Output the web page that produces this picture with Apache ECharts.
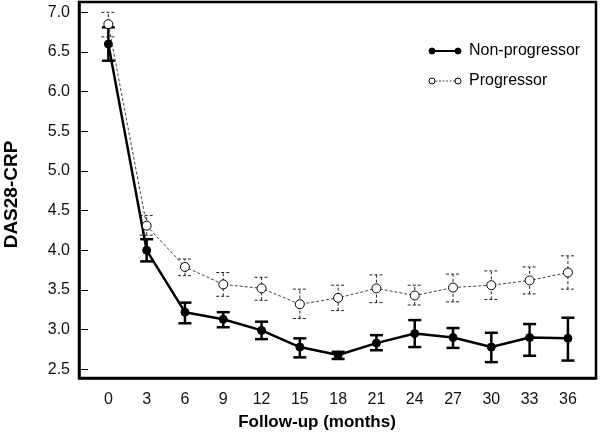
<!DOCTYPE html>
<html>
<head>
<meta charset="utf-8">
<script src="https://cdn.jsdelivr.net/npm/echarts@6/dist/echarts.min.js"></script>
<style>html,body{margin:0;padding:0;background:#fff}#c{width:600px;height:445px}</style>
</head>
<body>
<div id="c"></div>
<script>
const months = [0, 3, 6, 9, 12, 15, 18, 21, 24, 27, 30, 33, 36];
const yTicks = [2.5, 3.0, 3.5, 4.0, 4.5, 5.0, 5.5, 6.0, 6.5, 7.0];

const npMean = [6.60, 4.00, 3.22, 3.13, 2.99, 2.78, 2.68, 2.83, 2.95, 2.90, 2.78, 2.90, 2.89];
const npLow  = [6.39, 3.86, 3.08, 3.03, 2.88, 2.65, 2.63, 2.74, 2.78, 2.77, 2.59, 2.67, 2.61];
const npHigh = [6.81, 4.14, 3.34, 3.22, 3.10, 2.89, 2.72, 2.93, 3.12, 3.02, 2.96, 3.07, 3.15];

const pMean = [6.85, 4.31, 3.79, 3.57, 3.52, 3.32, 3.40, 3.52, 3.43, 3.53, 3.56, 3.62, 3.72];
const pLow  = [6.69, 4.19, 3.68, 3.42, 3.37, 3.14, 3.24, 3.34, 3.31, 3.35, 3.38, 3.45, 3.51];
const pHigh = [7.00, 4.44, 3.89, 3.72, 3.66, 3.51, 3.56, 3.69, 3.56, 3.70, 3.74, 3.79, 3.93];

const FONT = '"Liberation Sans", Arial, sans-serif';

function svgIcon(filled, dashed) {
  const fill = filled ? '#000' : '#fff';
  const dash = dashed ? ' stroke-dasharray="2,1.5"' : '';
  const lw = filled ? 2 : 1;
  const svg = '<svg xmlns="http://www.w3.org/2000/svg" width="34" height="10">' +
    '<line x1="4" y1="5" x2="30" y2="5" stroke="' + (filled ? '#000' : '#444') + '" stroke-width="' + lw + '"' + dash + '/>' +
    '<circle cx="4" cy="5" r="3" fill="' + fill + '" stroke="#000" stroke-width="1"/>' +
    '<circle cx="30" cy="5" r="3" fill="' + fill + '" stroke="#000" stroke-width="1"/></svg>';
  return 'image://data:image/svg+xml;charset=utf-8,' + encodeURIComponent(svg);
}

function errorBars(low, high, color, width, dash, halfCap) {
  return {
    type: 'custom',
    data: months.map((m, i) => [m, low[i], high[i]]),
    encode: { x: 0, y: [1, 2] },
    z: 2,
    silent: true,
    renderItem: function (params, api) {
      const x = api.value(0);
      const a = api.coord([x, api.value(1)]);
      const b = api.coord([x, api.value(2)]);
      const st = { stroke: color, lineWidth: width, lineDash: dash };
      return {
        type: 'group',
        children: [
          { type: 'line', shape: { x1: a[0], y1: a[1], x2: b[0], y2: b[1] }, style: st },
          { type: 'line', shape: { x1: a[0] - halfCap, y1: a[1], x2: a[0] + halfCap, y2: a[1] }, style: st },
          { type: 'line', shape: { x1: b[0] - halfCap, y1: b[1], x2: b[0] + halfCap, y2: b[1] }, style: st }
        ]
      };
    }
  };
}

const chart = echarts.init(document.getElementById('c'), null, { renderer: 'canvas' });
chart.setOption({
  animation: false,
  backgroundColor: '#fff',
  textStyle: { fontFamily: FONT },
  grid: { left: 79, top: 2, right: 4, bottom: 67, containLabel: false, outerBoundsMode: 'none', show: true, borderColor: '#000', borderWidth: 2.5, backgroundColor: '#fff' },
  legend: {
    orient: 'vertical',
    left: 423,
    top: 38,
    itemWidth: 34,
    itemHeight: 10,
    itemGap: 14,
    textStyle: { fontFamily: FONT, fontSize: 16, color: '#000', padding: [0, 0, 0, 2] },
    data: [
      { name: 'Non-progressor', icon: svgIcon(true, false) },
      { name: 'Progressor', icon: svgIcon(false, true) }
    ]
  },
  xAxis: {
    type: 'value',
    min: -2.3,
    max: 38.2,
    name: 'Follow-up (months)',
    nameLocation: 'middle',
    nameGap: 36,
    nameTextStyle: { fontFamily: FONT, fontSize: 17, fontWeight: 'bold', color: '#000', padding: [0, 41, 0, 0] },
    axisLine: { show: true, onZero: false, lineStyle: { color: '#000', width: 2.5 } },
    axisTick: { show: false },
    splitLine: { show: false },
    axisLabel: { customValues: months, fontFamily: FONT, fontSize: 16, color: '#111', margin: 14 }
  },
  yAxis: {
    type: 'value',
    min: 2.39,
    max: 7.13,
    name: 'DAS28-CRP',
    nameLocation: 'middle',
    nameGap: 58,
    nameTextStyle: { fontFamily: FONT, fontSize: 19, fontWeight: 'bold', color: '#000', padding: [0, 0, 0, -9] },
    axisLine: { show: true, onZero: false, lineStyle: { color: '#000', width: 2.5 } },
    axisTick: { show: true, inside: true, length: 9, customValues: yTicks, lineStyle: { color: '#000', width: 1 } },
    splitLine: { show: false },
    axisLabel: { customValues: yTicks, formatter: v => v.toFixed(1), fontFamily: FONT, fontSize: 16, color: '#111', margin: 9 }
  },
  series: [
    errorBars(pLow, pHigh, '#222', 1, [3, 2], 7),
    errorBars(npLow, npHigh, '#000', 2.5, null, 6.5),
    {
      name: 'Non-progressor',
      type: 'line',
      data: months.map((m, i) => [m, npMean[i]]),
      symbol: 'circle',
      symbolSize: 8,
      z: 3,
      lineStyle: { color: '#000', width: 2.5 },
      itemStyle: { color: '#000', borderColor: '#000', borderWidth: 1 }
    },
    {
      name: 'Progressor',
      type: 'line',
      data: months.map((m, i) => [m, pMean[i]]),
      symbol: 'circle',
      symbolSize: 9,
      z: 4,
      lineStyle: { color: '#444', width: 1, type: [3, 2] },
      itemStyle: { color: '#fff', borderColor: '#000', borderWidth: 1 }
    }
  ]
});
</script>
</body>
</html>
